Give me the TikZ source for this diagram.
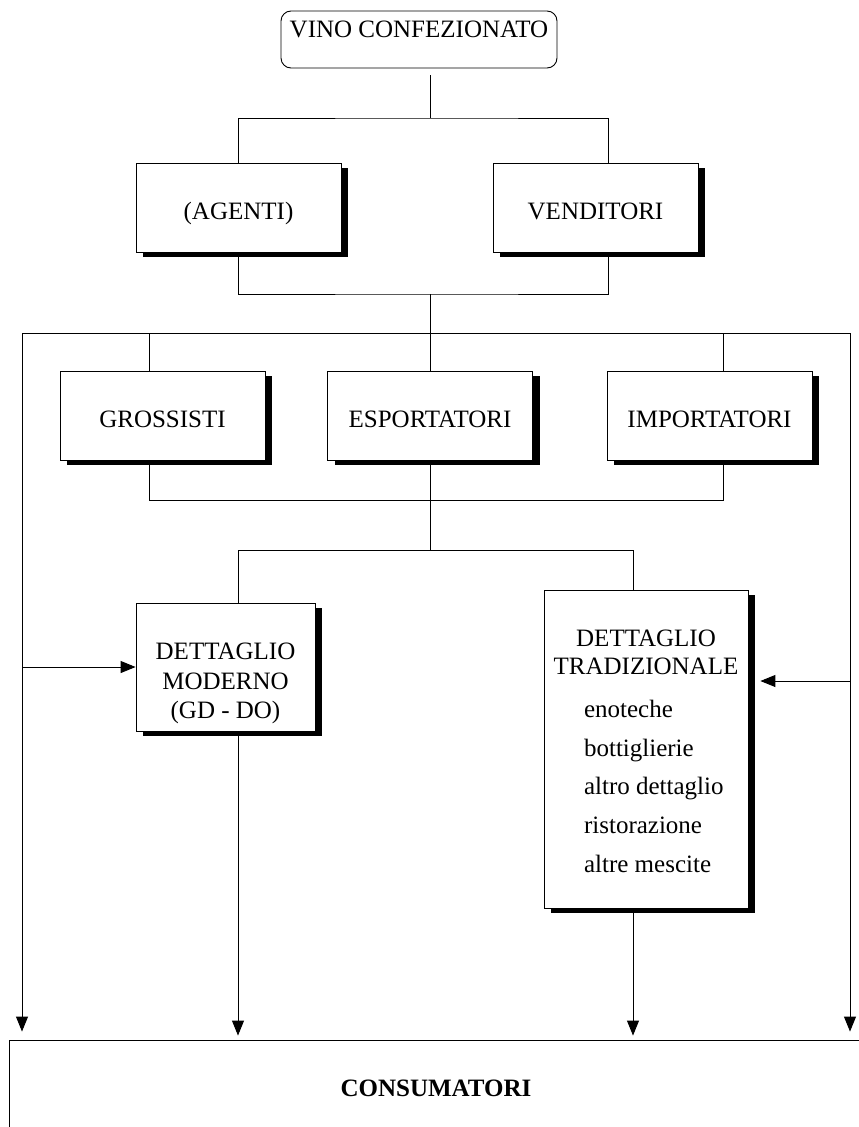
\documentclass[tikz,border=0pt]{standalone}
\usepackage{fontspec}
\setmainfont{Liberation Serif}
\usetikzlibrary{positioning,shadows,arrows.meta}
\tikzset{
  box/.style={draw, fill=white, line width=.8pt, inner sep=0pt,
    general shadow={fill=black, shadow xshift=7pt, shadow yshift=-5pt}},
  mid/.style={box, minimum width=205pt, minimum height=89pt,
    text height=23pt, text depth=0pt},
  txt/.style={inner sep=0pt, align=center},
  arr/.style={-{Triangle[length=15pt,width=12pt]}},
}
\begin{document}
\begin{tikzpicture}[x=1pt, y=-1pt, line width=.9pt,
  every node/.style={font=\fontsize{25pt}{29.5pt}\selectfont}]
\useasboundingbox (0,0) rectangle (859,1127);
\node[draw, rounded corners=10pt, minimum width=276pt, minimum height=57pt,
  text height=16pt, text depth=21pt] (vino) at (419,39.5) {VINO CONFEZIONATO};
\node[mid] (agenti) at (238.5,207.5) {(AGENTI)};
\node[mid] (venditori) at (595.5,207.5) {VENDITORI};
\node[mid] (grossisti) at (162.5,415.5) {GROSSISTI};
\node[mid] (esportatori) at (430,415.5) {ESPORTATORI};
\node[mid] (importatori) at (709.5,415.5) {IMPORTATORI};
\node[box, minimum width=179pt, minimum height=128pt] (moderno) at (225.5,667) {};
\node[txt, below=40pt of moderno.north] (modtxt) {DETTAGLIO\\MODERNO\\(GD - DO)};
\node[box, minimum width=204pt, minimum height=318pt] (tradiz) at (646,749) {};
\node[txt, below=40pt of tradiz.north, font=\fontsize{25pt}{28pt}\selectfont]
  (tradtxt) {DETTAGLIO\\TRADIZIONALE};
\node[txt, align=left, below right=110pt and 40pt of tradiz.north west,
  font=\fontsize{25pt}{38.75pt}\selectfont]
  (tradlist) {enoteche\\bottiglierie\\altro dettaglio\\ristorazione\\altre mescite};
\node[draw, minimum width=854pt, minimum height=96pt,
  font=\fontsize{25pt}{29.5pt}\selectfont\bfseries] (consumatori) at (436,1088) {CONSUMATORI};

\coordinate (vout) at (430,75);
\coordinate (j1) at (430,118);
\coordinate (j2) at (430,294);
\coordinate (j3) at (430,333);
\coordinate (lft) at (22,333);
\coordinate (rgt) at (850,333);
\coordinate (j4) at (430,500);
\coordinate (j5) at (430,550);
\coordinate (rin) at (850,681);
\coordinate (mdrop) at ([xshift=12.5pt]moderno.south);
\coordinate (tdrop) at ([xshift=-13pt]tradiz.south);

\draw (vout) -- (j1);
\draw (agenti.north) |- (j1) -| ([xshift=12.5pt]venditori.north);
\draw (agenti.south) |- (j2) -| ([xshift=12.5pt]venditori.south);
\draw (j2) -- (j3);
\draw (lft) -- (rgt);
\foreach \n/\s in {grossisti/-13.5, esportatori/0, importatori/13.5}
{
\draw (j3) -| ([xshift=\s pt]\n.north);
\draw (j4) -| ([xshift=\s pt]\n.south);
}
\draw (j4) -- (j5);
\draw (j5) -| ([xshift=12.5pt]moderno.north);
\draw (j5) -| ([xshift=-13pt]tradiz.north);
\draw[arr, shorten >=8pt] (lft) -- (lft |- consumatori.north);
\draw[arr, shorten >=8pt] (rgt) -- (rgt |- consumatori.north);
\draw[arr] (lft |- moderno.west) -- (moderno.west);
\draw[arr, shorten >=12pt] (rin) -- (rin -| tradiz.east);
\draw[arr, shorten >=4pt] (mdrop) -- (mdrop |- consumatori.north);
\draw[arr, shorten >=4pt] (tdrop) -- (tdrop |- consumatori.north);
\end{tikzpicture}
\end{document}
